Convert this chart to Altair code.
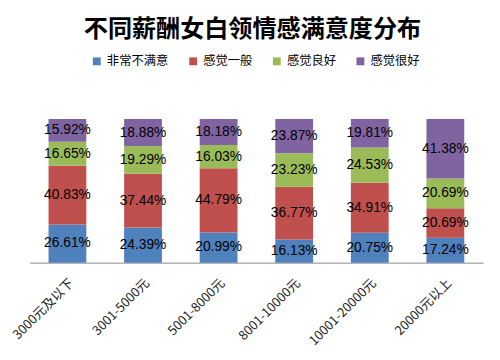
import altair as alt
import pandas as pd

categories = ["3000元及以下", "3001-5000元", "5001-8000元", "8001-10000元", "10001-20000元", "20000元以上"]
series = ["非常不满意", "感觉一般", "感觉良好", "感觉很好"]
very_unsatisfied = [26.61, 24.39, 20.99, 16.13, 20.75, 17.24]
average = [40.83, 37.44, 44.79, 36.77, 34.91, 20.69]
good = [16.65, 19.29, 16.03, 23.23, 24.53, 20.69]
very_good = [15.92, 18.88, 18.18, 23.87, 19.81, 41.38]
colors = ["#4F81BD", "#C0504D", "#9BBB59", "#8064A2"]

rows = []
for si, (s, vals) in enumerate(zip(series, [very_unsatisfied, average, good, very_good])):
    for c, v in zip(categories, vals):
        rows.append({"cat": c, "series": s, "order": si, "value": v})
df = pd.DataFrame(rows)

base = alt.Chart(df).transform_stack(
    stack="value", groupby=["cat"], as_=["y0", "y1"], offset="normalize",
    sort=[alt.SortField("order", order="ascending")]
).transform_calculate(
    mid="(datum.y0 + datum.y1) / 2",
    label="format(datum.value, '.2f') + '%'"
)

xenc = alt.X(
    "cat:N", sort=categories,
    scale=alt.Scale(paddingInner=0.5, paddingOuter=0.25),
    axis=alt.Axis(title=None, labelAngle=-45, ticks=False, domainColor="#888888",
                  labelFont="Noto Sans CJK SC", labelFontSize=13, labelColor="#222222",
                  labelPadding=14),
)
yscale = alt.Scale(domain=[0, 1], nice=False)

bars = base.mark_bar().encode(
    x=xenc,
    y=alt.Y("y0:Q", scale=yscale, axis=None),
    y2="y1:Q",
    color=alt.Color(
        "series:N", scale=alt.Scale(domain=series, range=colors),
        legend=alt.Legend(orient="none", direction="horizontal", title=None,
                          legendX=62, legendY=-65, symbolType="square", symbolSize=64,
                          symbolStrokeWidth=0, symbolOpacity=1,
                          labelFont="Noto Sans CJK SC", labelFontSize=12.5,
                          labelColor="#000000", columnPadding=18, labelOffset=4),
    ),
)

text = base.mark_text(font="Liberation Sans", fontSize=14, color="#000000").encode(
    x=alt.X("cat:N", sort=categories),
    y=alt.Y("mid:Q", scale=yscale, axis=None),
    text="label:N",
)

chart = alt.layer(bars, text).properties(
    width=461, height=146,
    title=alt.TitleParams("不同薪酬女白领情感满意度分布", font="Noto Sans CJK SC",
                          fontSize=24.5, fontWeight="bold", anchor="middle", color="#000000",
                          offset=13, dx=-4),
    autosize=alt.AutoSizeParams(type="none"),
    padding={"left": 22, "top": 110, "right": 9, "bottom": 88},
).configure_view(stroke=None)

chart.save("out.html", embed_options={"renderer": "svg", "actions": False})
